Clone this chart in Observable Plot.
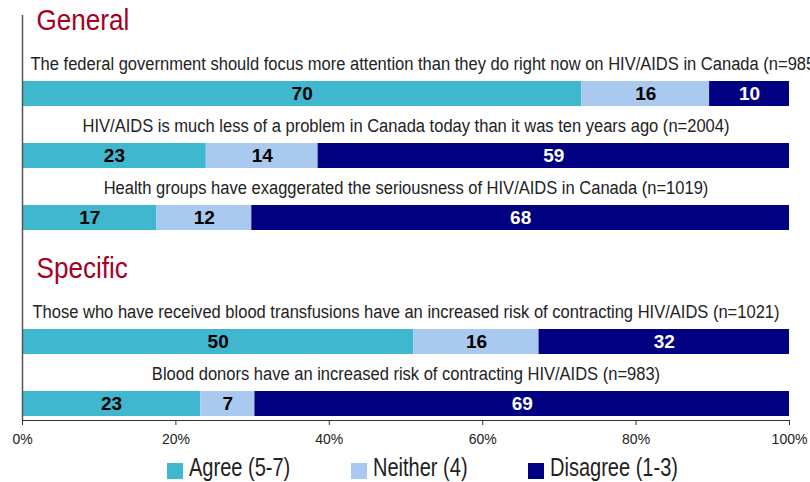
<!DOCTYPE html>
<html><head><meta charset="utf-8">
<script src="https://cdn.jsdelivr.net/npm/d3@7"></script>
<script src="https://cdn.jsdelivr.net/npm/@observablehq/plot@0.6"></script>
<style>
body{margin:0;background:#fff;width:810px;height:482px;overflow:hidden;}
#legend{position:relative;height:30px;font-family:"Liberation Sans",Arial,sans-serif;font-size:26px;color:#222;}
#legend .item{position:absolute;top:0px;height:30px;}
#legend .sw{position:absolute;left:0;top:11px;width:16px;height:16px;}
#legend .tx{position:absolute;left:22px;top:0px;line-height:30px;white-space:nowrap;transform:scaleX(0.77);transform-origin:left center;}
g[aria-label="x-axis tick label"]{font-size:14px;}
g[aria-label="x-axis tick label"] text{font-size:14px;}
</style></head><body><div id="chart"></div><div id="legend"></div>
<script>
const sections = ["General", "Specific"];
const questions = [
  "The federal government should focus more attention than they do right now on HIV/AIDS in Canada (n=985)",
  "HIV/AIDS is much less of a problem in Canada today than it was ten years ago (n=2004)",
  "Health groups have exaggerated the seriousness of HIV/AIDS in Canada (n=1019)",
  "Those who have received blood transfusions have an increased risk of contracting HIV/AIDS (n=1021)",
  "Blood donors have an increased risk of contracting HIV/AIDS (n=983)"
];
const sectionOf = ["General", "General", "General", "Specific", "Specific"];
const categories = ["Agree (5-7)", "Neither (4)", "Disagree (1-3)"];
const colors = ["#3fb8cf", "#a9c9ef", "#000080"];
const agree = [70, 23, 17, 50, 23];
const neither = [16, 14, 12, 16, 7];
const disagree = [10, 59, 68, 32, 69];
const xTicks = [0, 0.2, 0.4, 0.6, 0.8, 1];

const rowOrder = [];
sections.forEach(s => { rowOrder.push(s); questions.forEach((q, i) => { if (sectionOf[i] === s) rowOrder.push(q); }); });

const series = [agree, neither, disagree];
const data = questions.flatMap((q, i) => categories.map((c, j) => ({q, cat: c, value: series[j][i]})));

const sans = '"Liberation Sans",Arial,sans-serif';

const chart = Plot.plot({
  width: 810, height: 452,
  marginLeft: 22, marginRight: 21, marginTop: 15, marginBottom: 32,
  style: {fontFamily: sans, fontSize: "14px", background: "white", overflow: "visible"},
  x: {domain: [0, 1]},
  y: {domain: rowOrder, range: [17.5, 417.5], paddingInner: 0.6, paddingOuter: 0, axis: null},
  color: {domain: categories, range: colors},
  marks: [
    Plot.barX(data, Plot.stackX({x: "value", y: "q", fill: "cat", z: "cat", offset: "normalize"})),
    Plot.text(data, Plot.stackX({x: "value", y: "q", z: "cat", offset: "normalize",
      text: d => d.cat === categories[2] ? null : String(d.value), fill: "black", fontWeight: "bold", fontSize: 19})),
    Plot.text(data, Plot.stackX({x: "value", y: "q", z: "cat", offset: "normalize",
      text: d => d.cat === categories[2] ? String(d.value) : null, fill: "white", fontWeight: "bold", fontSize: 19})),
    Plot.text(questions.slice(0, 1), {x: 0, y: d => d, text: d => d, dy: -30, dx: 8, textAnchor: "start", fontSize: 19, fill: "#222", className: "narrow"}),
    Plot.text(questions.slice(1), {x: 0.5, y: d => d, text: d => d, dy: -30, textAnchor: "middle", fontSize: 19, fill: "#222", className: "narrow"}),
    Plot.text(sections, {x: 0, y: d => d, text: d => d, dy: -12, dx: 14, textAnchor: "start", fontSize: 30, fill: "#a50021", className: "narrow"}),
    Plot.ruleX([0], {stroke: "#555", strokeWidth: 1.5}),
    Plot.frame({anchor: "bottom", stroke: "#333"}),
    Plot.axisX({ticks: xTicks, tickFormat: d => `${Math.round(d * 100)}%`, tickSize: 5, tickPadding: 9, label: null, stroke: "#333", fill: "#222"})
  ]
});
document.getElementById("chart").appendChild(chart);
d3.select(chart).selectAll("g.narrow text").each(function () {
  const t = this.getAttribute("transform") || "";
  this.setAttribute("transform", t + " scale(0.87,1)");
});
d3.select(chart).selectAll('g[aria-label="x-axis tick label"]').attr("font-size", 14).style("font-size", "14px");

const legendX = [167, 351, 528];
const legend = document.getElementById("legend");
categories.forEach((c, i) => {
  const it = document.createElement("div");
  it.className = "item";
  it.style.left = legendX[i] + "px";
  it.innerHTML = `<span class="sw" style="background:${colors[i]}"></span><span class="tx">${c}</span>`;
  legend.appendChild(it);
});
</script></body></html>
